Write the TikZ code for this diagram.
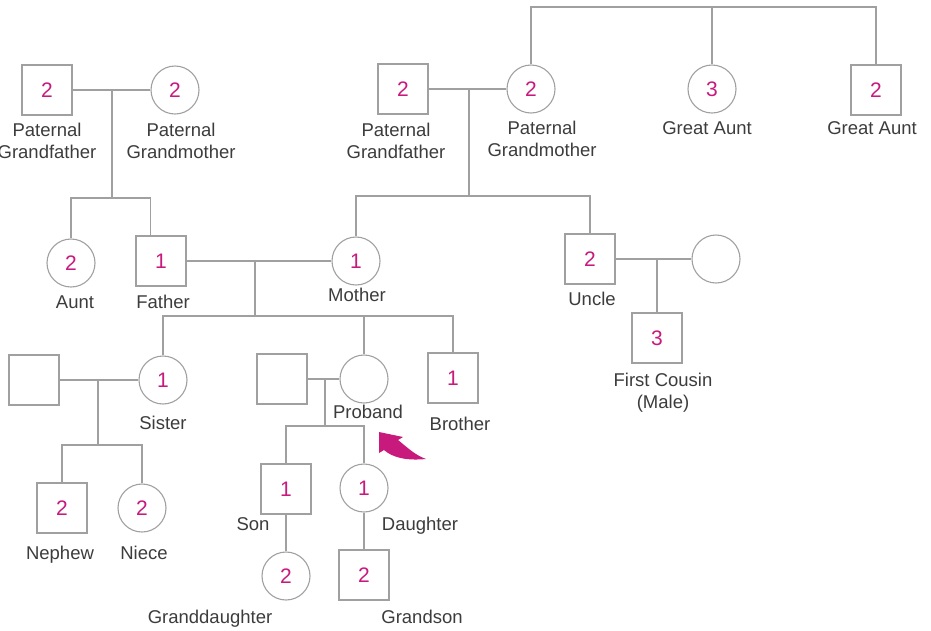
\documentclass[tikz,border=0pt]{standalone}
\usepackage{fontspec}
\setmainfont{Liberation Sans}
\usetikzlibrary{positioning}
\definecolor{lineGray}{RGB}{160,160,160}
\definecolor{numPink}{RGB}{200,25,125}
\definecolor{textGray}{RGB}{60,60,60}
\begin{document}
\begin{tikzpicture}[x=1pt,y=-1pt,
    male/.style={draw=lineGray,line width=1.1pt,minimum size=50pt,inner sep=0pt,text=numPink,font=\fontsize{21}{21}\selectfont},
    female/.style={male,circle,minimum size=48pt},
    lbl/.style={text=textGray,font=\fontsize{18.5}{22}\selectfont,align=center,inner sep=0pt},
    line/.style={draw=lineGray,line width=1.1pt}]
    \useasboundingbox (0,0) rectangle (931,630);

    % Father's parents
    \node[male] (pgfL) at (47,90) {2};
    \node[female] (pgmL) at (175,90) {2};
    \node[lbl,anchor=north] (lblPgfL) at (47,123) {Paternal\\Grandfather};
    \node[lbl,anchor=north] (lblPgmL) at (181,123) {Paternal\\Grandmother};
    \draw[line] (pgfL) -- (pgmL);

    % Mother's parents and great aunts
    \node[male] (pgfR) at (403,89) {2};
    \node[female] (pgmR) at (531,89) {2};
    \node[female] (gaunt1) at (712,89) {3};
    \node[male] (gaunt2) at (876,90) {2};
    \node[lbl,anchor=north] (lblPgfR) at (396,123) {Paternal\\Grandfather};
    \node[lbl,anchor=north] (lblPgmR) at (542,121) {Paternal\\Grandmother};
    \node[lbl,anchor=base] (lblGaunt1) at (707,134.5) {Great Aunt};
    \node[lbl,anchor=base] (lblGaunt2) at (872,134.5) {Great Aunt};
    \coordinate (gtop) at (712,7);
    \draw[line] (pgmR.north) |- (gtop) -| (gaunt2.north);
    \draw[line] (gaunt1.north) -- (gtop);
    \draw[line] (pgfR) -- (pgmR);

    % Parents' generation
    \node[female] (aunt) at (71,263) {2};
    \node[male] (father) at (161,261) {1};
    \node[female] (mother) at (356,261) {1};
    \node[male] (uncle) at (590,259) {2};
    \node[female] (uwife) at (716,259) {};
    \node[lbl,anchor=base] (lblAunt) at (75,308.5) {Aunt};
    \node[lbl,anchor=base] (lblFather) at (163,308.5) {Father};
    \node[lbl,anchor=base] (lblMother) at (357,301.5) {Mother};
    \node[lbl,anchor=base] (lblUncle) at (592,305.5) {Uncle};
    \coordinate (sibL) at (112,198);
    \coordinate (sibR) at (469,196);
    \draw[line] (sibL |- pgfL) -- (sibL);
    \draw[line] (aunt.north) |- (sibL) -| ([xshift=15pt]father.north west);
    \draw[line] (sibR |- pgfR) -- (sibR);
    \draw[line] (mother.north) |- (sibR) -| (uncle.north);
    \draw[line] (father) -- (mother);
    \draw[line] (uncle) -- (uwife);

    % First cousin
    \node[male] (cousin) at (657,338) {3};
    \node[lbl,anchor=north] (lblCousin) at (663,373) {First Cousin\\(Male)};
    \draw[line] (cousin.north) -- (cousin |- uncle);

    % Proband and siblings
    \node[male] (sspouse) at (34,380) {};
    \node[female] (sister) at (163,380) {1};
    \node[male] (pspouse) at (282,379) {};
    \node[female] (proband) at (364,379) {};
    \node[male] (brother) at (453,378) {1};
    \node[lbl,anchor=base] (lblSister) at (163,429.5) {Sister};
    \node[lbl,anchor=base] (lblProband) at (368,418.5) {Proband};
    \node[lbl,anchor=base] (lblBrother) at (460,430.5) {Brother};
    \coordinate (sibM) at (255,316);
    \draw[line] (sibM |- father) -- (sibM);
    \draw[line] (sister.north) |- (sibM) -| (brother.north);
    \draw[line] (proband.north) -- (proband |- sibM);
    \draw[line] (sspouse) -- (sister);
    \draw[line] (pspouse) -- (proband);

    % Nephew and niece
    \node[male] (nephew) at (62,508) {2};
    \node[female] (niece) at (142,508) {2};
    \node[lbl,anchor=base] (lblNephew) at (60,559.5) {Nephew};
    \node[lbl,anchor=base] (lblNiece) at (144,559.5) {Niece};
    \coordinate (sibS) at (98,445);
    \draw[line] (sibS |- sister) -- (sibS);
    \draw[line] (nephew.north) |- (sibS) -| (niece.north);

    % Children and grandchildren
    \node[male] (son) at (286,489) {1};
    \node[female] (daughter) at (364,488) {1};
    \node[female] (gdaughter) at (286,576) {2};
    \node[male] (gson) at (364,575) {2};
    \node[lbl,anchor=base] (lblSon) at (253,530.5) {Son};
    \node[lbl,anchor=base] (lblDaughter) at (420,530.5) {Daughter};
    \node[lbl,anchor=base] (lblGdaughter) at (210,623.5) {Granddaughter};
    \node[lbl,anchor=base] (lblGson) at (422,623.5) {Grandson};
    \coordinate (sibP) at (325,426);
    \draw[line] (sibP |- proband) -- (sibP);
    \draw[line] (son.north) |- (sibP) -| (daughter.north);
    \draw[line] (son) -- (gdaughter);
    \draw[line] (daughter) -- (gson);

    % Proband pointer
    \fill[numPink] (379,432) -- (403,437) -- (398,440)
        .. controls (408,448) and (415,455) .. (426,459)
        .. controls (405,461) and (392,457) .. (384,450)
        -- (379,453) -- cycle;
\end{tikzpicture}
\end{document}
